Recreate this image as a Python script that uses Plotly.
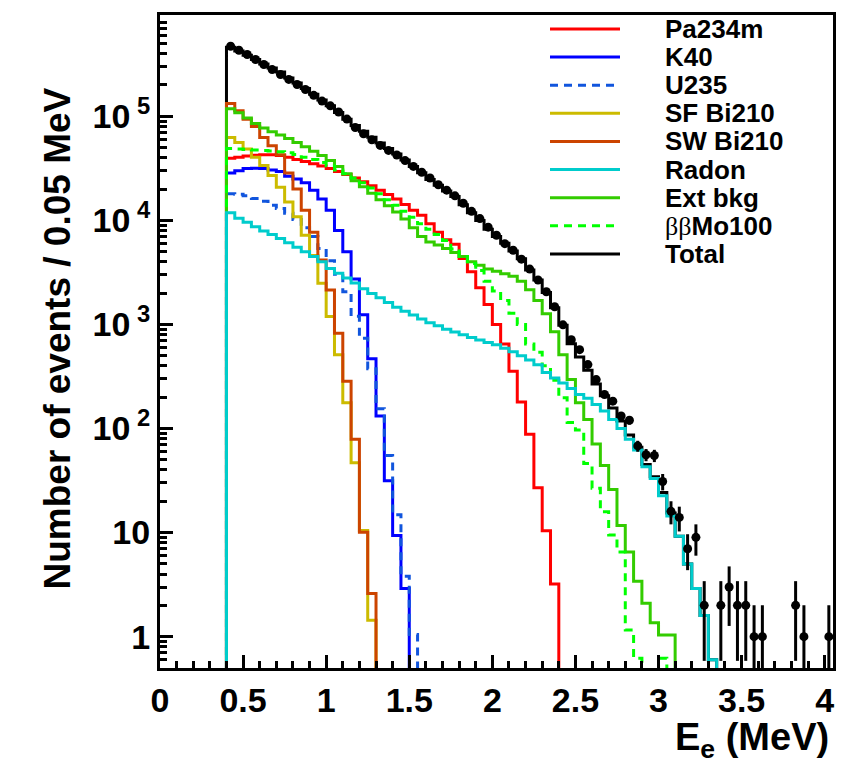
import numpy as np
import plotly.graph_objects as go

# ---------------- data (events per 0.05 MeV bin, first bin starts at 0.40 MeV) ----------------
bin_start = 0.40
bin_width = 0.05

pa234m = [39500, 40500, 41500, 42200, 42700, 42700, 42000, 40500, 38500, 36800,
          35000, 33300, 31500, 29500, 27500, 25500, 23500, 21500, 19500, 17700,
          16000, 14200, 12500, 11200, 9300, 7700, 6500, 5900, 4300, 3200,
          2250, 1550, 1000, 650, 355, 180, 88, 27, 10.4, 3.2]

k40 = [28500, 30000, 31500, 31600, 31500, 30500, 29500, 26500, 25000, 23000,
       19500, 16000, 12500, 8000, 5000, 2730, 1240, 469, 132, 31.5, 9.4, 2.9]

u235 = [18000, 17800, 17200, 16200, 15300, 14000, 13000, 11700, 10200, 8500,
        7000, 5350, 4100, 3030, 2060, 1200, 738, 376, 155, 55, 14.8, 3.8, 1.05]

sf_bi210 = [62500, 56000, 48400, 40300, 33600, 26900, 20800, 15000, 10800, 7200,
            4600, 2480, 1190, 512, 177, 47, 10.5, 1.44]

sw_bi210 = [133000, 113000, 93600, 79600, 62500, 52000, 42800, 28500, 20000, 12500,
            7700, 4150, 2140, 824, 285, 79, 10.1, 2.6]

radon = [11800, 10500, 9600, 8700, 7900, 7300, 6700, 6100, 5500, 5000,
         4500, 4000, 3450, 3100, 2800, 2500, 2200, 1980, 1800, 1620,
         1460, 1340, 1230, 1130, 1040, 970, 900, 845, 795, 750,
         710, 672, 638, 590, 545, 500, 455, 410, 345, 306,
         274, 242, 212, 195, 170, 147, 122, 100, 79, 62,
         43, 33, 22.6, 14.4, 9.2, 5.0, 2.9, 1.6, 0.6]

ext_bkg = [118000, 108000, 96000, 85000, 77000, 71000, 66000, 61000, 56000, 51000,
           46000, 42000, 37500, 33000, 28000, 24000, 21000, 18200, 15800, 13800,
           12000, 10300, 8500, 7000, 6200, 5800, 5350, 4900, 4500, 4000,
           3700, 3400, 3250, 3070, 2900, 2600, 2150, 1700, 1270, 850,
           512, 295, 177, 122, 71, 44, 26, 11.7, 6.5, 3.4,
           2.1, 1.36, 1.04, 1.04]

bb_mo100 = [49000, 48500, 48000, 47500, 47000, 46500, 45500, 44500, 43000, 40500,
            38500, 36000, 33500, 30500, 28000, 25500, 23000, 20500, 18000, 15800,
            14000, 12200, 10700, 9300, 8200, 7300, 6400, 5300, 4500, 3850,
            3300, 2600, 2100, 1700, 1280, 1000, 650, 540, 400, 291,
            197, 114, 97, 46, 26.6, 15.9, 9.5, 6.5, 1.16, 0.62,
            0, 0, 0.62]

data_counts = [471000, 431000, 392000, 351000, 314000, 281000, 252000, 226000, 202000, 181000,
               159000, 140000, 126000, 110000, 94000, 78000, 68000, 59500, 52500, 47000,
               42500, 37500, 33000, 29000, 25500, 22000, 19500, 17200, 14600, 12200,
               10400, 8600, 7200, 5970, 5160, 4240, 3400, 2670, 2060, 1480,
               991, 713, 572, 411, 295, 212, 183, 132, 120, 68,
               56, 55, 31, 16, 14, 7, 9, 2, 0, 2,
               3, 2, 2, 1, 1, 0, 0, 0, 2, 1,
               0, 0, 1]

series_names = ["Pa234m", "K40", "U235", "SF Bi210", "SW Bi210", "Radon", "Ext bkg",
                "\u03b2\u03b2Mo100"]
series_values = [pa234m, k40, u235, sf_bi210, sw_bi210, radon, ext_bkg, bb_mo100]
series_colors = ["#ff0000", "#0000ff", "#1155dd", "#ccbb00", "#cc4400", "#00cccc",
                 "#33cc00", "#00ff00"]
series_dash = ["solid", "solid", "8px,6px", "solid", "solid", "solid", "solid", "8px,6px"]
draw_order = [0, 1, 2, 3, 4, 6, 7, 5]

FLOOR = 1e-3  # below the visible range: histogram edges drop to the axis


def hist_xy(vals):
    v = np.asarray(vals, dtype=float)
    n = len(v)
    edges = bin_start + bin_width * np.arange(n + 1)
    x = np.concatenate([[edges[0]], edges])
    y = np.concatenate([[FLOOR], np.where(v > 0, v, FLOOR), [FLOOR]])
    return x, y


nmax = max(len(v) for v in series_values)
total_mc = np.zeros(nmax)
for v in series_values:
    total_mc[:len(v)] += np.asarray(v, dtype=float)

fig = go.Figure()

tx, ty = hist_xy(total_mc)
fig.add_trace(go.Scatter(x=tx, y=ty, mode="lines", line=dict(color="black", width=3, shape="hv"),
                         name="Total", hoverinfo="skip"))

for k in draw_order:
    x, y = hist_xy(series_values[k])
    fig.add_trace(go.Scatter(x=x, y=y, mode="lines",
                             line=dict(color=series_colors[k], width=3, shape="hv",
                                       dash=series_dash[k]),
                             name=series_names[k], hoverinfo="skip"))

counts = np.asarray(data_counts, dtype=float)
centers = bin_start + bin_width * (np.arange(len(counts)) + 0.5)
mask = counts > 0
fig.add_trace(go.Scatter(x=centers[mask], y=counts[mask], mode="markers",
                         marker=dict(color="black", size=9),
                         error_y=dict(type="data", array=np.sqrt(counts[mask]), width=0,
                                      thickness=3, color="black"),
                         name="Data", hoverinfo="skip"))

# ---------------- layout ----------------
L, R, T, B = 160, 20, 12, 98
W, H = 853, 766
pw, ph = W - L - R, H - T - B


def px_x(p):
    return (p - L) / pw


def px_y(p):
    return (H - B - p) / ph


axis_font = "Liberation Sans, Arial, sans-serif"
leg_font = "Liberation Sans, Arial, sans-serif"

y_major = [1, 10, 100, 1000, 10000, 100000]
y_text = ["1", "10", "10<sup> 2</sup>", "10<sup> 3</sup>", "10<sup> 4</sup>", "10<sup> 5</sup>"]
y_minor = [m * 10.0 ** e for e in range(-1, 6) for m in range(2, 10) if 0.55 < m * 10.0 ** e < 9e5]

fig.update_layout(
    width=W, height=H,
    margin=dict(l=L, r=R, t=T, b=B),
    paper_bgcolor="white", plot_bgcolor="white",
    showlegend=False,
    xaxis=dict(range=[0, 4.05], showline=True, linecolor="black", linewidth=3, mirror=True,
               ticks="inside", ticklen=13, tickwidth=2.5, tickcolor="black",
               tick0=0, dtick=0.5, showgrid=False, zeroline=False,
               minor=dict(dtick=0.1, ticks="inside", ticklen=7, tickwidth=2.5,
                          tickcolor="black", showgrid=False),
               tickfont=dict(family=axis_font, size=34, color="black", weight="bold")),
    yaxis=dict(type="log", range=[np.log10(0.5), 5.973], showline=True, linecolor="black",
               linewidth=3, mirror=True,
               ticks="inside", ticklen=13, tickwidth=2.5, tickcolor="black",
               tickmode="array", tickvals=y_major, ticktext=y_text,
               showgrid=False, zeroline=False,
               minor=dict(tickmode="array", tickvals=y_minor, ticks="inside", ticklen=7,
                          tickwidth=2.5, tickcolor="black", showgrid=False),
               tickfont=dict(family=axis_font, size=34, color="black", weight="bold")),
)

annotations = [
    dict(text="Number of events / 0.05 MeV", textangle=-90, xref="paper", yref="paper",
         x=px_x(58), y=px_y(337), xanchor="center", yanchor="middle", showarrow=False,
         font=dict(family=axis_font, size=37, color="black", weight="bold")),
    dict(text="E<sub>e</sub> (MeV)", xref="paper", yref="paper",
         x=px_x(831), y=px_y(740), xanchor="right", yanchor="middle", showarrow=False,
         font=dict(family=axis_font, size=38, color="black", weight="bold")),
]

legend_names = series_names + ["Total"]
legend_colors = series_colors + ["black"]
legend_dash = ["solid", "solid", "dash", "solid", "solid", "solid", "solid", "dash", "solid"]
shapes = []
for k, name in enumerate(legend_names):
    yy = px_y(26 + 28.25 * k)
    shapes.append(dict(type="line", xref="paper", yref="paper", x0=px_x(550), x1=px_x(620),
                       y0=yy, y1=yy,
                       line=dict(color=legend_colors[k], width=3,
                                 dash="8px,6px" if legend_dash[k] == "dash" else "solid")))
    label = name
    if name.startswith("\u03b2\u03b2"):
        label = ("<span style=\"font-family:'Liberation Serif';font-weight:normal\">"
                 "\u03b2\u03b2</span>" + name[2:])
    annotations.append(dict(text=label, xref="paper", yref="paper", x=px_x(663), y=yy,
                            xanchor="left", yanchor="middle", showarrow=False,
                            font=dict(family=leg_font, size=26, color="black", weight="bold")))

fig.update_layout(annotations=annotations, shapes=shapes)

fig.write_html("out.html")
